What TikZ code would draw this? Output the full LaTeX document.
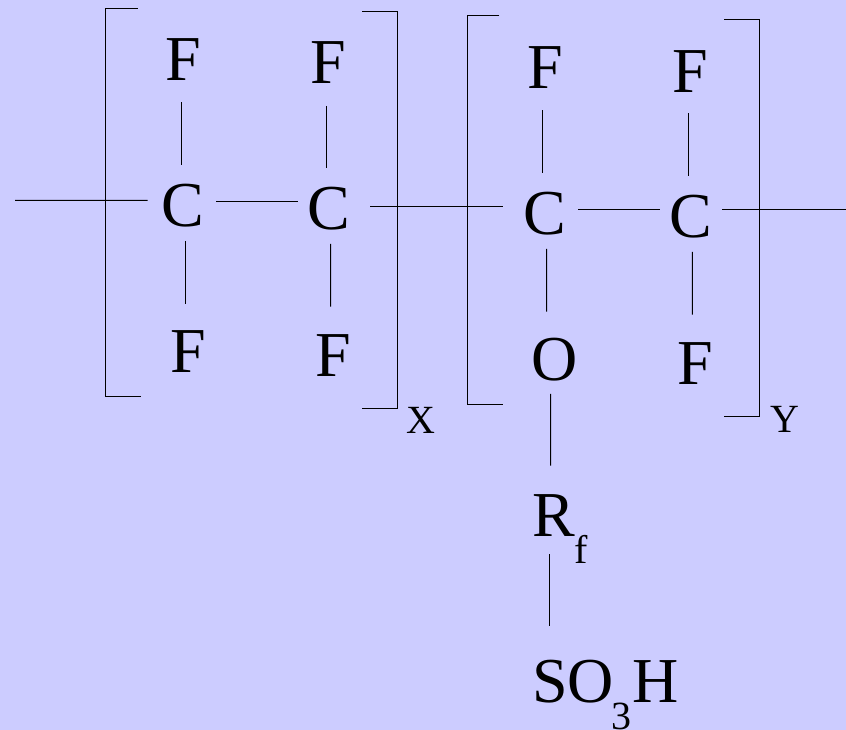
\documentclass[tikz,border=0pt]{standalone}
\usepackage{fontspec}
\setmainfont{Liberation Serif}
\definecolor{bgc}{RGB}{204,204,255}
\tikzset{
 atom/.style={inner sep=0pt,anchor=base,font=\fontsize{48}{48}\selectfont,text=black},
 atomw/.style={atom,anchor=base west},
 subs/.style={inner sep=0pt,anchor=base,font=\fontsize{30}{30}\selectfont,text=black},
 bond/.style={draw=black,line width=0.75pt}
}
\begin{document}
\begin{tikzpicture}[x=0.75pt,y=-0.75pt]
\useasboundingbox[fill=bgc] (0,0) rectangle (846,730);
% atoms
\node[atom] (f1) at (183,80.5) {F};
\node[atom] (f2) at (328.5,83.5) {F};
\node[atom] (c1) at (183,226.5) {C};
\node[atom] (c2) at (328.5,229.5) {C};
\node[atom] (f3) at (188,373) {F};
\node[atom] (f4) at (333.5,376.5) {F};
\node[atom] (f5) at (545,88.8) {F};
\node[atom] (f6) at (690,92.2) {F};
\node[atom] (c3) at (545,234.5) {C};
\node[atom] (c4) at (690.5,237.5) {C};
\node[atom] (o1) at (555,380.5) {O};
\node[atom] (f7) at (695,384.5) {F};
\node[atomw] (r1) at (532.5,536.5) {R};
\node[subs] (rf) at (581,563) {f};
\node[atomw] (s1) at (532,702.5) {SO};
\node[subs] (s3) at (621.5,729) {3};
\node[atomw] (s2) at (632.5,702.5) {H};
\node[subs] (xl) at (421,433.5) {X};
\node[subs] (yl) at (785,432.2) {Y};
% free ends
\coordinate (la) at (15,200.3);
\coordinate (ra) at (846,210);
% bonds
\draw[bond] (la) -- ([shift={(-35.4,-26.2)}]c1.base);
\draw[bond] ([shift={(33,-24.5)}]c1.base) -- ([shift={(-30.5,-27.5)}]c2.base);
\draw[bond] ([shift={(41.5,-22.8)}]c2.base) -- ([shift={(-42.3,-27.8)}]c3.base);
\draw[bond] ([shift={(33.3,-24.5)}]c3.base) -- ([shift={(-30.5,-27.5)}]c4.base);
\draw[bond] ([shift={(31.8,-27.5)}]c4.base) -- (ra);
\draw[bond] ([shift={(-2,21.8)}]f1.base) -- ([shift={(-2,-61.9)}]c1.base);
\draw[bond] ([shift={(-2.2,22.5)}]f2.base) -- ([shift={(-2.2,-61.9)}]c2.base);
\draw[bond] ([shift={(2,14.5)}]c1.base) -- ([shift={(-3,-69.4)}]f3.base);
\draw[bond] ([shift={(2.2,14.5)}]c2.base) -- ([shift={(-2.8,-69.9)}]f4.base);
\draw[bond] ([shift={(-2.7,21.5)}]f5.base) -- ([shift={(-2.7,-61.8)}]c3.base);
\draw[bond] ([shift={(-2,21.1)}]f6.base) -- ([shift={(-2.5,-61.8)}]c4.base);
\draw[bond] ([shift={(1.7,14.5)}]c3.base) -- ([shift={(-8.3,-68.8)}]o1.base);
\draw[bond] ([shift={(1.8,14.5)}]c4.base) -- ([shift={(-2.7,-69.8)}]f7.base);
\draw[bond] ([shift={(-4.3,13.5)}]o1.base) -- ([shift={(18.2,-70.8)}]r1.base west);
\draw[bond] ([shift={(16.8,17.5)}]r1.base west) -- ([shift={(17.3,-76.8)}]s1.base west);
% brackets
\draw[bond] (137.7,8.3) -- (105.7,8.3) -- (105.7,397) -- (140.7,397);
\draw[bond] (362,11.7) -- (397.3,11.7) -- (397.3,408.3) -- (362,408.3);
\draw[bond] (499.3,16) -- (467.3,16) -- (467.3,405) -- (502.7,405);
\draw[bond] (724,19.7) -- (759.3,19.7) -- (759.3,416.3) -- (724,416.3);
\end{tikzpicture}
\end{document}
